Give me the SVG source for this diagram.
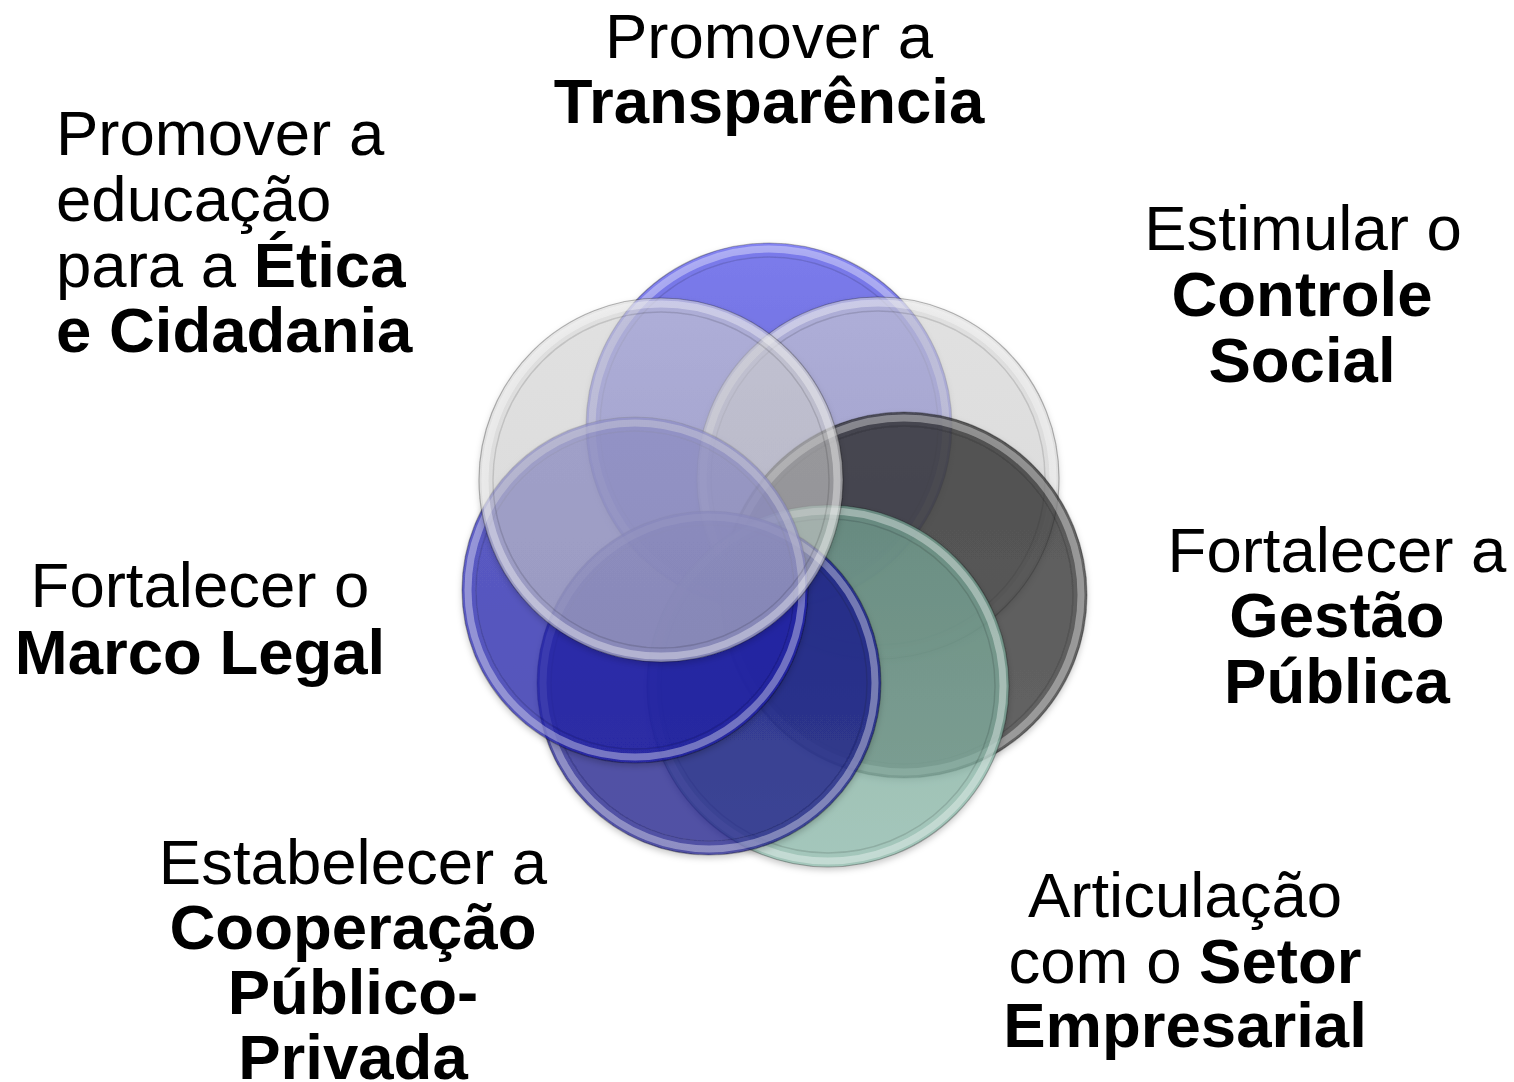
<svg xmlns="http://www.w3.org/2000/svg" width="1514" height="1082" viewBox="0 0 1514 1082">
<style>
  text { font-family: "Liberation Sans", Arial, sans-serif; font-size: 63.5px; fill: #000; }
  .c { text-anchor: middle; }
  .b { font-weight: bold; }
  .edge { fill: none; stroke: #000; stroke-opacity: 0.28; stroke-width: 1.2; }
  .rim { fill: none; stroke: #fff; stroke-opacity: 0.35; stroke-width: 7; }
  .inner { fill: none; stroke: #000; stroke-opacity: 0.12; stroke-width: 1.5; }
</style>
<defs>
  <filter id="sh" x="-10%" y="-10%" width="120%" height="125%">
    <feDropShadow dx="0" dy="3" stdDeviation="3" flood-color="#000" flood-opacity="0.28"/>
  </filter>
  <linearGradient id="gBlueTop" x1="0" y1="0" x2="0" y2="1">
    <stop offset="0" stop-color="#5656ee"/>
    <stop offset="1" stop-color="#3434c8"/>
  </linearGradient>
  <linearGradient id="gGrey" x1="0" y1="0" x2="0" y2="1">
    <stop offset="0" stop-color="#dadada"/>
    <stop offset="1" stop-color="#cdcdcd"/>
  </linearGradient>
  <linearGradient id="gDark" x1="0" y1="0" x2="0" y2="1">
    <stop offset="0" stop-color="#262626"/>
    <stop offset="1" stop-color="#353535"/>
  </linearGradient>
  <linearGradient id="gGreen" x1="0" y1="0" x2="0" y2="1">
    <stop offset="0" stop-color="#76a595"/>
    <stop offset="1" stop-color="#8cbcac"/>
  </linearGradient>
  <linearGradient id="gNavy" x1="0" y1="0" x2="0" y2="1">
    <stop offset="0" stop-color="#0c0c90"/>
    <stop offset="1" stop-color="#1c1c8c"/>
  </linearGradient>
  <linearGradient id="gBlueLeft" x1="0" y1="0" x2="0" y2="1">
    <stop offset="0" stop-color="#2a2abc"/>
    <stop offset="1" stop-color="#2020a8"/>
  </linearGradient>
</defs>
<rect width="1514" height="1082" fill="#fff"/>

<g id="circles">
  <g id="circle-transparencia" filter="url(#sh)">
    <circle cx="769" cy="426" r="183" fill="url(#gBlueTop)" fill-opacity="0.7"/>
    <circle cx="769" cy="426" r="177" class="rim"/>
    <circle cx="769" cy="426" r="169" class="inner"/>
    <circle cx="769" cy="426" r="183" class="edge"/>
  </g>
  <g id="circle-controle" filter="url(#sh)">
    <circle cx="878" cy="478" r="181" fill="url(#gGrey)" fill-opacity="0.55"/>
    <circle cx="878" cy="478" r="175" class="rim"/>
    <circle cx="878" cy="478" r="167" class="inner"/>
    <circle cx="878" cy="478" r="181" class="edge"/>
  </g>
  <g id="circle-gestao" filter="url(#sh)">
    <circle cx="904" cy="595" r="183" fill="url(#gDark)" fill-opacity="0.7"/>
    <circle cx="904" cy="595" r="177" class="rim" stroke-opacity="0.18"/>
    <circle cx="904" cy="595" r="169" class="inner"/>
    <circle cx="904" cy="595" r="183" class="edge" stroke-opacity="0.6"/>
  </g>
  <g id="circle-setor" filter="url(#sh)">
    <circle cx="828" cy="686" r="181" fill="url(#gGreen)" fill-opacity="0.7"/>
    <circle cx="828" cy="686" r="175" class="rim"/>
    <circle cx="828" cy="686" r="167" class="inner"/>
    <circle cx="828" cy="686" r="181" class="edge"/>
  </g>
  <g id="circle-cooperacao" filter="url(#sh)">
    <circle cx="709" cy="683" r="172" fill="url(#gNavy)" fill-opacity="0.7"/>
    <circle cx="709" cy="683" r="166" class="rim" stroke-opacity="0.22"/>
    <circle cx="709" cy="683" r="158" class="inner"/>
    <circle cx="709" cy="683" r="172" class="edge"/>
  </g>
  <g id="circle-marco" filter="url(#sh)">
    <circle cx="635" cy="590" r="173" fill="url(#gBlueLeft)" fill-opacity="0.7"/>
    <circle cx="635" cy="590" r="167" class="rim" stroke-opacity="0.28"/>
    <circle cx="635" cy="590" r="159" class="inner"/>
    <circle cx="635" cy="590" r="173" class="edge"/>
  </g>
  <g id="circle-etica" filter="url(#sh)">
    <circle cx="661" cy="480" r="182" fill="url(#gGrey)" fill-opacity="0.55"/>
    <circle cx="661" cy="480" r="176" class="rim"/>
    <circle cx="661" cy="480" r="168" class="inner"/>
    <circle cx="661" cy="480" r="182" class="edge"/>
  </g>
</g>

<g id="label-transparencia">
  <text class="c" x="769" y="58">Promover a</text>
  <text class="c b" x="769" y="123">Transparência</text>
</g>
<g id="label-etica">
  <text x="56" y="155">Promover a</text>
  <text x="56" y="221">educação</text>
  <text x="56" y="287">para a <tspan class="b">Ética</tspan></text>
  <text class="b" x="56" y="352">e Cidadania</text>
</g>
<g id="label-controle">
  <text class="c" x="1303" y="250">Estimular o</text>
  <text class="c b" x="1302" y="316">Controle</text>
  <text class="c b" x="1302" y="382">Social</text>
</g>
<g id="label-gestao">
  <text class="c" x="1337" y="572">Fortalecer a</text>
  <text class="c b" x="1337" y="637">Gestão</text>
  <text class="c b" x="1337" y="703">Pública</text>
</g>
<g id="label-marco">
  <text class="c" x="200" y="607">Fortalecer o</text>
  <text class="c b" x="200" y="674">Marco Legal</text>
</g>
<g id="label-cooperacao">
  <text class="c" x="353" y="884">Estabelecer a</text>
  <text class="c b" x="353" y="949">Cooperação</text>
  <text class="c b" x="353" y="1014">Público-</text>
  <text class="c b" x="353" y="1079">Privada</text>
</g>
<g id="label-setor">
  <text class="c" x="1185" y="917">Articulação</text>
  <text class="c" x="1185" y="983">com o <tspan class="b">Setor</tspan></text>
  <text class="c b" x="1185" y="1047">Empresarial</text>
</g>
</svg>
